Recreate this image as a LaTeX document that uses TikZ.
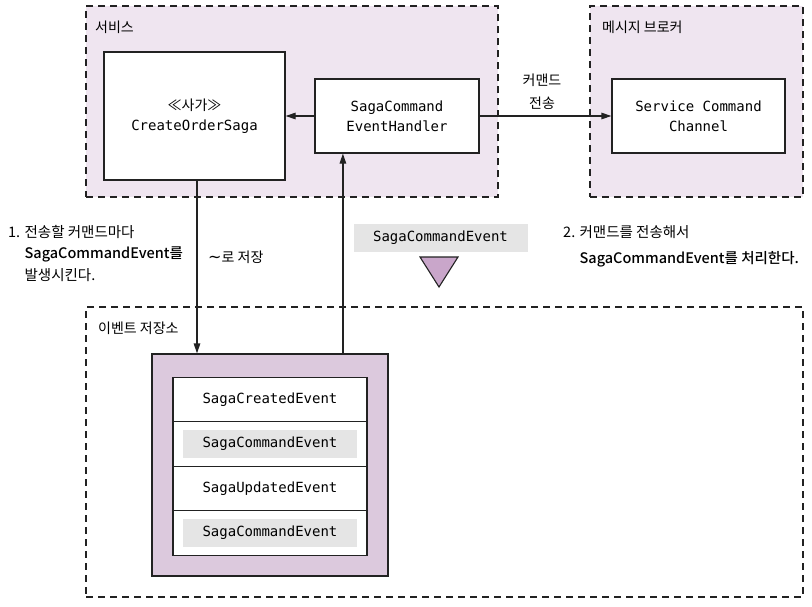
\documentclass[tikz,border=0pt]{standalone}
\usepackage{fontspec}
\setmainfont{Noto Sans CJK KR}[BoldFont={Noto Sans CJK KR Medium}]
\setmonofont{DejaVu Sans Mono}
\newfontfamily\symfont{DejaVu Sans}
\usetikzlibrary{arrows.meta}
\definecolor{regionfill}{HTML}{EFE5F0}
\definecolor{storefill}{HTML}{DCC9DD}
\definecolor{markfill}{HTML}{C9A6CA}
\definecolor{evgray}{HTML}{E5E5E5}
\definecolor{ink}{HTML}{222222}
\begin{document}
\begin{tikzpicture}[x=1pt,y=-1pt,
  region/.style={draw=ink, dash pattern=on 7pt off 5pt, line width=1.4pt,
    fill=regionfill, inner sep=0pt},
  box/.style={draw=ink, line width=1.2pt, fill=white, align=center, inner sep=0pt,
    font=\ttfamily\fontsize{14}{20}\selectfont},
  evrow/.style={draw=ink, line width=1.2pt, fill=white, inner sep=0pt,
    minimum width=194pt, minimum height=44.5pt},
  evtag/.style={fill=evgray, inner sep=0pt, minimum width=174pt, minimum height=28pt,
    font=\ttfamily\fontsize{14}{17}\selectfont},
  evname/.style={inner sep=0pt, font=\ttfamily\fontsize{14}{17}\selectfont},
  lbl/.style={font=\fontsize{14}{17}\selectfont, inner sep=0pt},
  note/.style={font=\fontsize{14.5}{21.5}\selectfont, inner sep=0pt, align=left},
  arr/.style={-{Triangle[length=10pt,width=6.5pt]}, line width=1.2pt, draw=ink}]
\useasboundingbox (0,0) rectangle (812,606);

% dashed regions
\node[region, minimum width=412pt, minimum height=191pt] (service) at (292,101.5) {};
\node[region, minimum width=213pt, minimum height=191pt] (broker) at (696.5,101.5) {};
\node[region, fill=none, minimum width=717pt, minimum height=290pt] (store) at (444.5,452) {};

\node[lbl, anchor=west] (servicelbl) at (95,27) {서비스};
\node[lbl, anchor=west] (brokerlbl) at (602,27) {메시지 브로커};
\node[lbl, anchor=west] (storelbl) at (98,328) {이벤트 저장소};

% components
\node[box, minimum width=181pt, minimum height=128pt] (saga) at (194.5,116)
  {{\rmfamily ≪사가≫}\\CreateOrderSaga};
\node[box, minimum width=164pt, minimum height=74pt] (handler) at (397,116)
  {SagaCommand\\EventHandler};
\node[box, minimum width=173pt, minimum height=74pt] (channel) at (698.5,116)
  {Service Command\\Channel};

% event store contents
\node[draw=ink, line width=1.2pt, fill=storefill, minimum width=236pt,
  minimum height=222pt] (events) at (270,465) {};
\node[evrow] (row1) at (270,399.5) {};
\node[evrow] (row2) at (270,444) {};
\node[evrow] (row3) at (270,488.5) {};
\node[evrow] (row4) at (270,533) {};
\node[evname] (created) at (row1) {SagaCreatedEvent};
\node[evtag] (cmd1) at (row2) {SagaCommandEvent};
\node[evname] (updated) at (row3) {SagaUpdatedEvent};
\node[evtag] (cmd2) at (row4) {SagaCommandEvent};

% message in transit
\node[evtag] (intransit) at (440.5,238) {SagaCommandEvent};
\coordinate (markA) at (420,257);
\coordinate (markB) at (458,257);
\coordinate (markC) at (439,287);
\draw[draw=ink, line width=1.1pt, fill=markfill, line join=miter] (markA) -- (markB) -- (markC) -- cycle;

% connectors
\draw[arr] (handler.west) -- (saga.east);
\draw[arr] (handler.east) -- (channel.west);
\node[lbl, align=center, font=\fontsize{14}{23}\selectfont] (sendlbl) at (542,92) {커맨드\\전송};
\draw[arr] ([xshift=2.5pt]saga.south) -- ([xshift=2.5pt]saga.south |- events.north);
\draw[arr] ([xshift=28.5pt]handler.south west |- events.north) -- ([xshift=28.5pt]handler.south west);
\node[lbl, anchor=west] (savelbl) at (208,257) {{\symfont\fontsize{16}{17}\selectfont ∼}로 저장};

% notes
\node[note, anchor=north west] (note1) at (8,225)
  {1. 전송할 커맨드마다\\
   \hphantom{1. }\textbf{SagaCommandEvent를}\\
   \hphantom{1. }발생시킨다.};
\node[note, anchor=north west, font=\fontsize{14.5}{26}\selectfont] (note2) at (563,225)
  {2. 커맨드를 전송해서\\
   \hphantom{2. }\textbf{SagaCommandEvent를 처리한다.}};
\end{tikzpicture}
\end{document}
